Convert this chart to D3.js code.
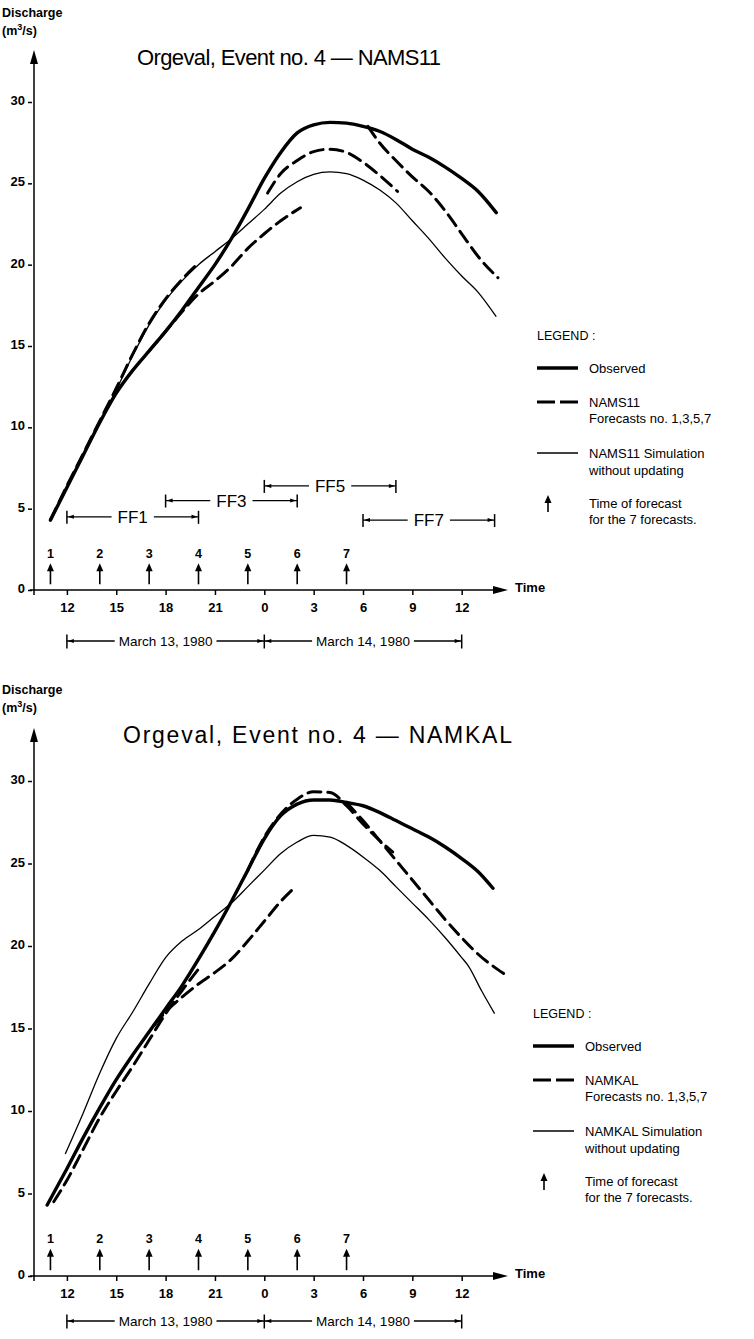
<!DOCTYPE html>
<html>
<head>
<meta charset="utf-8">
<script src="https://d3js.org/d3.v7.min.js"></script>
<style>
  body { margin: 0; background: #fff; }
  text { font-family: "Liberation Sans", Arial, sans-serif; fill: #000; }
</style>
</head>
<body>
<script>

// time is counted in hours from March 13, 00:00
tickHours = [12, 15, 18, 21, 24, 27, 30, 33, 36];
tickLabels = ["12", "15", "18", "21", "0", "3", "6", "9", "12"];
yTicks = [0, 5, 10, 15, 20, 25, 30];
forecastHours = [11, 14, 17, 20, 23, 26, 29];
forecastNos = ["1", "2", "3", "4", "5", "6", "7"];
dayNames = ["March 13, 1980", "March 14, 1980"];
dayBounds = [12, 24, 36];

// forecast horizons (top panel only)
ffNames = ["FF1", "FF3", "FF5", "FF7"];
ffStart = [12, 18, 24, 30];
ffEnd = [20, 26, 32, 38];
ffLevel = [4.5, 5.5, 6.4, 4.3];

// NAMS11 panel, [hour, discharge]
nams11Observed = [[11,4.3],[12,6.3],[13,8.3],[14,10.3],[15,12.1],[16,13.5],[17,14.7],[18,15.9],[19,17.2],[20,18.6],[21,20.0],[22,21.6],[23,23.4],[24,25.3],[25,26.9],[26,28.1],[27,28.6],[28,28.75],[29,28.7],[30,28.5],[31,28.2],[32,27.7],[33,27.1],[34,26.6],[35,26.0],[36,25.3],[37,24.5],[38.1,23.2]];
nams11Simulation = [[11,4.3],[12,6.3],[13,8.3],[14,10.3],[15,12.3],[16,14.4],[17,16.3],[18,17.8],[19,19.0],[20,20.0],[21,20.8],[22,21.6],[23,22.5],[24,23.4],[25,24.4],[26,25.1],[27,25.55],[28,25.7],[29,25.6],[30,25.2],[31,24.6],[32,23.8],[33,22.7],[34,21.6],[35,20.4],[36,19.3],[37,18.3],[38.1,16.8]];
nams11FF1 = [[11,4.3],[12,6.4],[13,8.4],[14,10.4],[15,12.4],[16,14.5],[17,16.4],[18,17.9],[19,19.1],[20,20.1]];
nams11FF3 = [[17,14.7],[18,15.9],[19,17.1],[20,18.2],[21,19.0],[22,19.9],[23,21.0],[24,21.9],[25,22.7],[26.2,23.5]];
nams11FF5 = [[24.2,24.4],[25,25.6],[26,26.4],[27,26.95],[28,27.1],[29,26.9],[30,26.3],[31,25.5],[32.1,24.5]];
nams11FF7 = [[30.3,28.5],[31,27.5],[32,26.4],[33,25.4],[34,24.5],[35,23.3],[36,21.9],[37,20.5],[38.2,19.2]];

// NAMKAL panel
namkalObserved = [[10.8,4.3],[12,6.5],[13,8.4],[14,10.2],[15,11.9],[16,13.4],[17,14.8],[18,16.2],[19,17.6],[20,19.2],[21,20.9],[22,22.7],[23,24.6],[24,26.5],[25,27.9],[26,28.6],[27,28.85],[28,28.85],[29,28.7],[30,28.5],[31,28.1],[32,27.6],[33,27.1],[34,26.6],[35,26.0],[36,25.3],[37,24.5],[37.9,23.5]];
namkalSimulation = [[11.9,7.4],[13,9.9],[14,12.3],[15,14.4],[16,16.0],[17,17.7],[18,19.3],[19,20.3],[20,21.0],[21,21.8],[22,22.6],[23,23.6],[24,24.6],[25,25.6],[26,26.3],[27,26.7],[28,26.6],[29,26.1],[30,25.4],[31,24.6],[32,23.6],[33,22.6],[34,21.6],[35,20.5],[36,19.3],[36.4,18.8],[37.2,17.3],[38,15.9]];
namkalFF1 = [[11.2,4.5],[12,5.8],[13,7.7],[14,9.6],[15,11.2],[16,12.7],[17,14.3],[18,15.9],[19,17.3],[20,18.6]];
namkalFF3 = [[17.3,15.2],[18,16.0],[19,16.9],[20,17.7],[21,18.4],[22,19.2],[23,20.3],[24,21.5],[25,22.7],[25.9,23.6]];
namkalFF5 = [[23,24.6],[24,26.6],[25,28.0],[26,28.9],[27,29.35],[28,29.3],[29,28.5],[30,27.4],[31,26.4],[31.8,25.7]];
namkalFF7 = [[29,28.7],[30,27.6],[31,26.4],[32,25.2],[33,24.0],[34,22.8],[35,21.6],[36,20.5],[37,19.5],[38.6,18.3]];

svg = d3.select("body").append("svg")
  .attr("width", 754)
  .attr("height", 1339);

x = d3.scaleLinear().domain([10, 36]).range([34, 461.7]);

function arrowHead(g, px, py, dir, len, half) {
  // dir: "up", "left", "right"
  var p;
  if (dir == "up") p = [[px, py], [px - half, py + len], [px + half, py + len]];
  if (dir == "left") p = [[px, py], [px + len, py - half], [px + len, py + half]];
  if (dir == "right") p = [[px, py], [px - len, py - half], [px - len, py + half]];
  g.append("path").attr("d", "M" + p.join("L") + "Z").attr("fill", "#000");
}

function bracket(g, x0, x1, yy, label, size, gap, barH, bars) {
  var mid = (x0 + x1) / 2;
  var t = g.append("text")
    .attr("x", mid).attr("y", yy).attr("dy", "0.36em")
    .attr("text-anchor", "middle")
    .style("font-size", size + "px")
    .text(label);
  var w = t.node().getComputedTextLength();
  var a = mid - w / 2 - gap, b = mid + w / 2 + gap;
  g.append("line").attr("x1", x0).attr("x2", a).attr("y1", yy).attr("y2", yy).attr("stroke", "#000").attr("stroke-width", 1.3);
  g.append("line").attr("x1", b).attr("x2", x1).attr("y1", yy).attr("y2", yy).attr("stroke", "#000").attr("stroke-width", 1.3);
  arrowHead(g, x0 + 1, yy, "left", 6, 2);
  arrowHead(g, x1 - 1, yy, "right", 6, 2);
  bars.forEach(function(bx) {
    g.append("line").attr("x1", bx).attr("x2", bx)
      .attr("y1", yy - barH / 2).attr("y2", yy + barH / 2 + 1)
      .attr("stroke", "#000").attr("stroke-width", 1.5);
  });
}

function panel(o) {
  var g = svg.append("g");
  var y = d3.scaleLinear().domain([0, 30]).range([o.y0, o.y30]);

  // titles
  g.append("text").attr("x", 2).attr("y", o.discY).style("font-size", "12.5px").style("font-weight", "bold").text("Discharge");
  var u = g.append("text").attr("x", 2).attr("y", o.discY + 18).style("font-size", "12.5px").style("font-weight", "bold");
  u.append("tspan").text("(m");
  u.append("tspan").attr("dy", -5).style("font-size", "9px").text("3");
  u.append("tspan").attr("dy", 5).text("/s)");

  g.append("text")
    .attr("x", o.titleX).attr("y", o.titleY).attr("dy", "0.36em")
    .attr("textLength", o.titleW).attr("lengthAdjust", "spacing")
    .style("font-size", o.titleSize + "px")
    .text(o.title);

  // y axis
  g.append("line").attr("x1", x(10)).attr("x2", x(10))
    .attr("y1", o.y0 + 5).attr("y2", o.tipY + 10)
    .attr("stroke", "#000").attr("stroke-width", 1.5);
  arrowHead(g, x(10), o.tipY, "up", 14, 4);
  var ya = g.append("g").attr("transform", "translate(" + x(10) + ",0)")
    .call(d3.axisLeft(y).tickValues(yTicks).tickSize(5).tickPadding(4));
  ya.select(".domain").remove();
  ya.selectAll("line").attr("stroke", "#000").attr("stroke-width", 1.5).attr("x2", -6).attr("x1", -2);
  ya.selectAll("text").attr("font-family", null).style("font-size", "13px").style("font-weight", "bold").attr("dy", "0.2em");

  // x axis
  g.append("line").attr("x1", x(10) - 4).attr("x2", 496)
    .attr("y1", o.y0).attr("y2", o.y0)
    .attr("stroke", "#000").attr("stroke-width", 1.5);
  arrowHead(g, 508, o.y0, "right", 15, 4);
  var xa = g.append("g").attr("transform", "translate(0," + o.y0 + ")")
    .call(d3.axisBottom(x).tickValues(tickHours).tickSize(5).tickPadding(8)
      .tickFormat(function(d, i) { return tickLabels[i]; }));
  xa.select(".domain").remove();
  xa.selectAll("line").attr("stroke", "#000").attr("stroke-width", 1.5);
  xa.selectAll("text").attr("font-family", null).style("font-size", "13px").style("font-weight", "bold");
  g.append("text").attr("x", 515).attr("y", o.y0 - 3).attr("dy", "0.36em")
    .style("font-size", "13px").style("font-weight", "bold").text("Time");

  // dates
  bracket(g, x(dayBounds[0]), x(dayBounds[1]), o.dateY, dayNames[0], 13.5, 4, 13, [x(dayBounds[0])]);
  bracket(g, x(dayBounds[1]), x(dayBounds[2]), o.dateY, dayNames[1], 13.5, 4, 13, [x(dayBounds[1]), x(dayBounds[2])]);

  // times of forecast
  forecastHours.forEach(function(h, i) {
    g.append("line").attr("x1", x(h)).attr("x2", x(h))
      .attr("y1", y(0.35)).attr("y2", y(1.3))
      .attr("stroke", "#000").attr("stroke-width", 1.6);
    arrowHead(g, x(h), y(1.65), "up", 8, 3.5);
    g.append("text").attr("x", x(h)).attr("y", y(2.25)).attr("dy", "0.36em")
      .attr("text-anchor", "middle")
      .style("font-size", "12.5px").style("font-weight", "bold")
      .text(forecastNos[i]);
  });

  // forecast horizons
  if (o.ff) {
    ffNames.forEach(function(n, i) {
      bracket(g, x(ffStart[i]), x(ffEnd[i]), y(ffLevel[i]), n, 17, 6, 12, [x(ffStart[i]), x(ffEnd[i])]);
    });
  }

  // curves
  var line = d3.line()
    .x(function(d) { return x(d[0]); })
    .y(function(d) { return y(d[1]); })
    .curve(d3.curveMonotoneX);

  g.append("path").datum(o.sim).attr("d", line)
    .attr("fill", "none").attr("stroke", "#000").attr("stroke-width", 1.3);
  o.forecasts.forEach(function(f) {
    g.append("path").datum(f).attr("d", line)
      .attr("fill", "none").attr("stroke", "#000").attr("stroke-width", 3)
      .attr("stroke-dasharray", "13,7").attr("stroke-linecap", "round");
  });
  g.append("path").datum(o.obs).attr("d", line)
    .attr("fill", "none").attr("stroke", "#000").attr("stroke-width", 3.4)
    .attr("stroke-linecap", "round");

  // legend
  var lx = o.legX, ly = o.legY;
  var lg = g.append("g");
  lg.append("text").attr("x", lx).attr("y", ly).attr("dy", "0.36em").style("font-size", "12.5px").text("LEGEND :");
  lg.append("line").attr("x1", lx).attr("x2", lx + 41).attr("y1", ly + 33).attr("y2", ly + 33)
    .attr("stroke", "#000").attr("stroke-width", 3.4);
  lg.append("text").attr("x", lx + 52).attr("y", ly + 33).attr("dy", "0.36em").style("font-size", "13px").text("Observed");
  lg.append("line").attr("x1", lx).attr("x2", lx + 41).attr("y1", ly + 67).attr("y2", ly + 67)
    .attr("stroke", "#000").attr("stroke-width", 3.2).attr("stroke-dasharray", "18,5");
  lg.append("text").attr("x", lx + 52).attr("y", ly + 67).attr("dy", "0.36em").style("font-size", "13px").text(o.model);
  lg.append("text").attr("x", lx + 52).attr("y", ly + 83).attr("dy", "0.36em").style("font-size", "13px").text("Forecasts no. 1,3,5,7");
  lg.append("line").attr("x1", lx).attr("x2", lx + 41).attr("y1", ly + 118).attr("y2", ly + 118)
    .attr("stroke", "#000").attr("stroke-width", 1.3);
  lg.append("text").attr("x", lx + 52).attr("y", ly + 118).attr("dy", "0.36em").style("font-size", "13px").text(o.model + " Simulation");
  lg.append("text").attr("x", lx + 52).attr("y", ly + 135).attr("dy", "0.36em").style("font-size", "13px").text("without updating");
  lg.append("line").attr("x1", lx + 11).attr("x2", lx + 11).attr("y1", ly + 164).attr("y2", ly + 177)
    .attr("stroke", "#000").attr("stroke-width", 1.6);
  arrowHead(lg, lx + 11, ly + 160, "up", 8, 3.5);
  lg.append("text").attr("x", lx + 52).attr("y", ly + 168).attr("dy", "0.36em").style("font-size", "13px").text("Time of forecast");
  lg.append("text").attr("x", lx + 52).attr("y", ly + 184).attr("dy", "0.36em").style("font-size", "13px").text("for the 7 forecasts.");
}

panel({
  y0: 590, y30: 102, tipY: 50, discY: 17,
  title: "Orgeval, Event no. 4 \u2014 NAMS11", titleX: 137, titleY: 57, titleW: 304, titleSize: 22,
  dateY: 641, ff: true,
  legX: 537, legY: 335, model: "NAMS11",
  obs: nams11Observed, sim: nams11Simulation,
  forecasts: [nams11FF1, nams11FF3, nams11FF5, nams11FF7]
});

panel({
  y0: 1276, y30: 781, tipY: 728, discY: 694,
  title: "Orgeval, Event no. 4 \u2014 NAMKAL", titleX: 123, titleY: 735, titleW: 389, titleSize: 23,
  dateY: 1321, ff: false,
  legX: 533, legY: 1013, model: "NAMKAL",
  obs: namkalObserved, sim: namkalSimulation,
  forecasts: [namkalFF1, namkalFF3, namkalFF5, namkalFF7]
});

</script>
</body>
</html>
